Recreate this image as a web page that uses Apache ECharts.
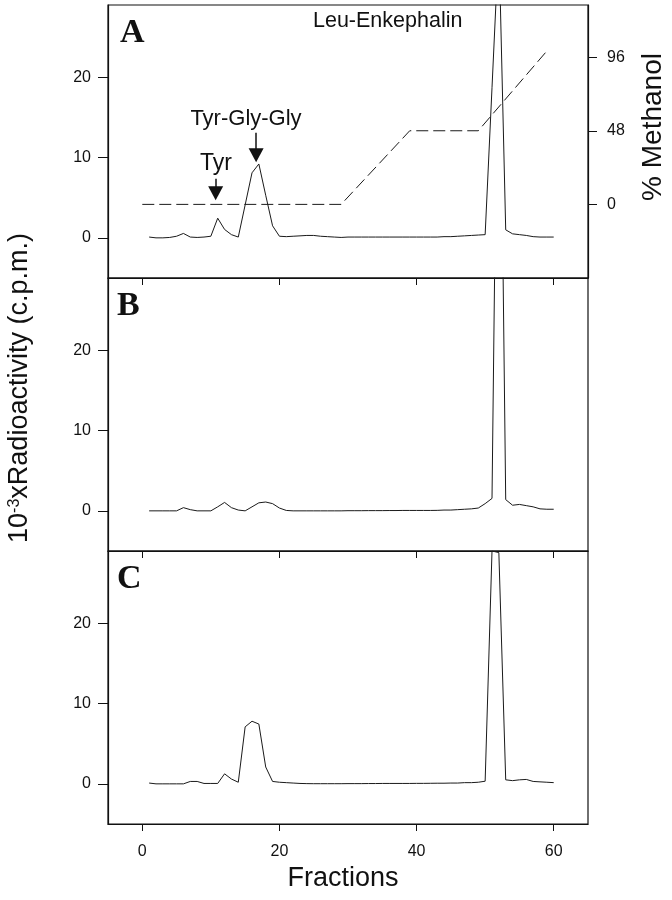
<!DOCTYPE html>
<html><head><meta charset="utf-8">
<script src="https://cdn.jsdelivr.net/npm/echarts@6/dist/echarts.min.js"></script>
<style>html,body{margin:0;padding:0;background:#fff}#c{width:672px;height:900px}</style>
</head><body><div id="c"></div>
<script>
const fractions = [1,2,3,4,5,6,7,8,9,10,11,12,13,14,15,16,17,18,19,20,21,22,23,24,25,26,27,28,29,30,
  31,32,33,34,35,36,37,38,39,40,41,42,43,44,45,46,47,48,49,50,51,52,53,54,55,56,57,58,59,60];
const radioA = [0.1,0.0,0.0,0.05,0.2,0.55,0.1,0.05,0.1,0.2,
  2.45,1.05,0.4,0.1,4.1,8.1,9.2,5.3,1.5,0.2,
  0.15,0.2,0.25,0.3,0.3,0.2,0.15,0.1,0.05,0.1,
  0.1,0.1,0.1,0.1,0.1,0.1,0.1,0.1,0.1,0.1,
  0.1,0.1,0.1,0.15,0.15,0.2,0.25,0.3,0.35,0.4,
  18.7,37,1.0,0.5,0.4,0.3,0.15,0.1,0.1,0.1];
const radioB = [0,0,0,0,0,0.4,0.15,0,0,0,
  0.5,1.05,0.4,0.1,0,0.5,1.0,1.1,0.9,0.35,
  0.05,0,0,0,0,0,0,0,0,0.02,
  0.02,0.02,0.03,0.03,0.03,0.04,0.04,0.05,0.05,0.05,
  0.05,0.05,0.06,0.1,0.1,0.15,0.2,0.25,0.35,0.9,
  1.55,75,1.4,0.7,0.8,0.65,0.5,0.25,0.2,0.2];
const radioC = [0.1,0,0,0,0,0,0.3,0.3,0.05,0.05,
  0.05,1.25,0.6,0.2,7.1,7.8,7.45,2.1,0.3,0.2,
  0.15,0.1,0.05,0.03,0.02,0.02,0.02,0.02,0.02,0.03,
  0.03,0.03,0.04,0.04,0.05,0.05,0.05,0.05,0.05,0.06,
  0.06,0.07,0.08,0.08,0.1,0.1,0.15,0.15,0.2,0.33,
  29.0,28.8,0.5,0.4,0.5,0.55,0.3,0.25,0.2,0.15];
const methanolX = [0,29,39,49,59];
const methanolY = [0,0,48,48,100];
const xTicks = [0,20,40,60];
const yTicks = [0,10,20];
const methanolTicks = [0,48,96];
const panelLabels = ['A','B','C'];
const arrowTyr = {x:10.7, from:7.36, to:5.56};
const arrowTGG = {x:16.6, from:13.1, to:10.3};

const chart = echarts.init(document.getElementById('c'), null, {renderer:'canvas'});
const L = 108, W = 480, H = 273, tops = [5, 278, 551];
const FONT = '"Liberation Sans", Arial, sans-serif';
const black = '#111';

const grids = tops.map(t => ({left: L, top: t, width: W, height: H, show: true,
  borderColor: black, borderWidth: 1.2, backgroundColor: 'transparent'}));

const xAxes = tops.map((t, i) => ({
  type: 'value', gridIndex: i, min: -5, max: 65,
  axisLine: {show: true, onZero: false, lineStyle: {color: black, width: 1.2}},
  axisTick: {show: true, customValues: xTicks, inside: false, length: 7, lineStyle: {color: black}},
  axisLabel: {show: i === 2, customValues: xTicks, fontSize: 16, color: black, fontFamily: FONT, margin: 20},
  splitLine: {show: false}
}));

const yAxes = tops.map((t, i) => ({
  type: 'value', gridIndex: i, min: -5, max: 29, position: 'left',
  axisLine: {show: true, onZero: false, lineStyle: {color: black, width: 1.2}},
  axisTick: {show: true, customValues: yTicks, inside: false, length: 10, lineStyle: {color: black}},
  axisLabel: {customValues: yTicks, fontSize: 16, color: black, fontFamily: FONT, margin: 17},
  splitLine: {show: false}
}));
yAxes.push({
  type: 'value', gridIndex: 0, min: -48, max: 130, position: 'right',
  axisLine: {show: true, onZero: false, lineStyle: {color: black, width: 1.2}},
  axisTick: {show: true, customValues: methanolTicks, inside: false, length: 9, lineStyle: {color: black}},
  axisLabel: {customValues: methanolTicks, fontSize: 16, color: black, fontFamily: FONT, margin: 19},
  splitLine: {show: false}
});

const pair = (xs, ys) => xs.map((x, i) => [x, ys[i]]);
const lineCommon = {type: 'line', showSymbol: false, symbol: 'none', clip: true, silent: true,
  lineStyle: {color: '#1a1a1a', width: 1}, itemStyle: {color: '#1a1a1a'}};

const arrowLine = a => [{coord: [a.x, a.from]}, {coord: [a.x, a.to]}];

const series = [
  Object.assign({}, lineCommon, {name: 'A', xAxisIndex: 0, yAxisIndex: 0, data: pair(fractions, radioA),
    markLine: {silent: true, symbol: ['none', 'triangle'], symbolSize: [15, 14], animation: false,
      label: {show: false}, lineStyle: {color: black, width: 1.5, type: 'solid'},
      data: [arrowLine(arrowTyr), arrowLine(arrowTGG)]}}),
  Object.assign({}, lineCommon, {name: 'Methanol', xAxisIndex: 0, yAxisIndex: 3, data: pair(methanolX, methanolY),
    lineStyle: {color: '#1a1a1a', width: 1, type: [12, 5]}}),
  Object.assign({}, lineCommon, {name: 'B', xAxisIndex: 1, yAxisIndex: 1, data: pair(fractions, radioB)}),
  Object.assign({}, lineCommon, {name: 'C', xAxisIndex: 2, yAxisIndex: 2, data: pair(fractions, radioC)})
];

const graphic = [];
panelLabels.forEach((p, i) => {
  graphic.push({type: 'text', left: i === 0 ? 120 : 117, top: tops[i] + 11,
    style: {text: p, font: 'bold 34px "Liberation Serif", "Times New Roman", serif', fill: black}});
});
graphic.push({type: 'text', left: 313, top: 10, style: {text: 'Leu-Enkephalin', font: '21.5px ' + FONT, fill: black}});
graphic.push({type: 'text', x: 246, y: 119, style: {text: 'Tyr-Gly-Gly', font: '22px ' + FONT, fill: black, textAlign: 'center', textVerticalAlign: 'middle'}});
graphic.push({type: 'text', x: 216, y: 164, style: {text: 'Tyr', font: '23px ' + FONT, fill: black, textAlign: 'center', textVerticalAlign: 'middle'}});
graphic.push({type: 'text', x: 653, y: 127, rotation: Math.PI / 2,
  style: {text: '% Methanol', font: '28px ' + FONT, fill: black, textAlign: 'center', textVerticalAlign: 'middle'}});
graphic.push({type: 'text', x: 343, y: 879,
  style: {text: 'Fractions', font: '27px ' + FONT, fill: black, textAlign: 'center', textVerticalAlign: 'middle'}});
graphic.push({type: 'text', x: 20, y: 388, rotation: Math.PI / 2,
  style: {text: '10{sup|-3}xRadioactivity (c.p.m.)', font: '27px ' + FONT, fill: black,
    textAlign: 'center', textVerticalAlign: 'middle',
    rich: {sup: {fontSize: 16, fontFamily: FONT, verticalAlign: 'top', fill: black, padding: [0, 0, 11, 0]}}}});

chart.setOption({
  animation: false,
  backgroundColor: '#fff',
  grid: grids,
  xAxis: xAxes,
  yAxis: yAxes,
  series: series,
  graphic: graphic
});
</script></body></html>
